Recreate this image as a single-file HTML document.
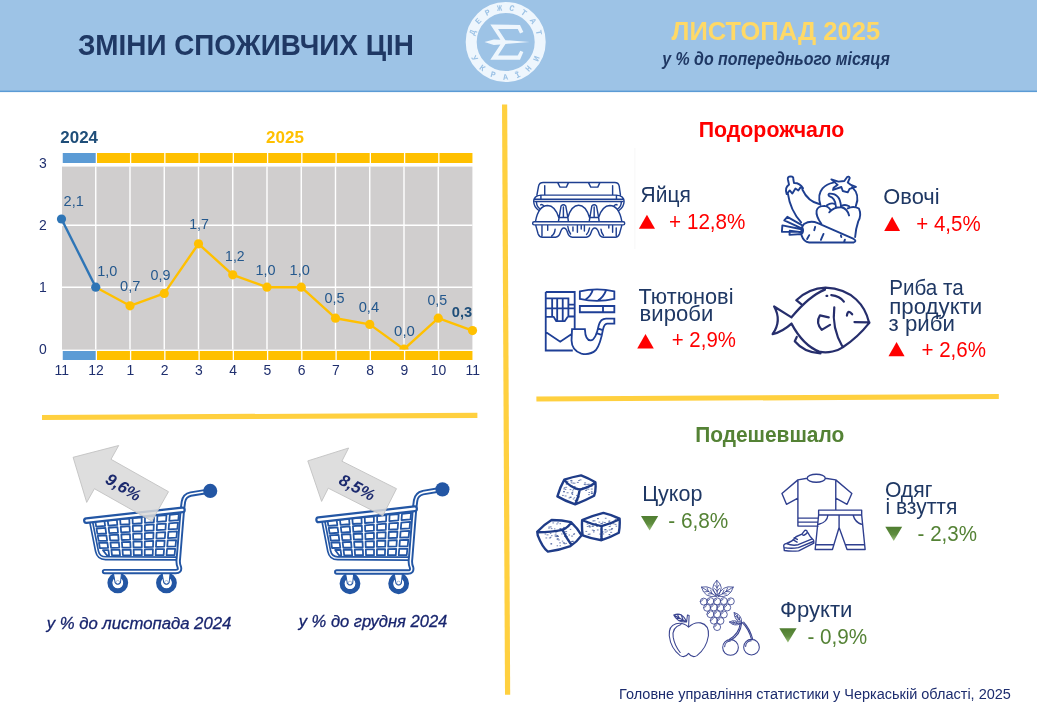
<!DOCTYPE html>
<html lang="uk">
<head>
<meta charset="utf-8">
<title>Зміни споживчих цін</title>
<style>
html,body{margin:0;padding:0;background:#fff;}
body{width:1037px;height:715px;overflow:hidden;position:relative;font-family:"Liberation Sans",sans-serif;}
svg{position:absolute;left:0;top:0;display:block;}
svg text{font-family:"Liberation Sans",sans-serif;}
</style>
</head>
<body>
<svg width="1037" height="715" viewBox="0 0 1037 715">
<!-- 10_header.py -->
<rect x="0" y="0" width="1037" height="91" fill="#9dc3e6"/>
<rect x="0" y="90.6" width="1037" height="1.5" fill="#5b9bd5"/>
<text transform="translate(77.90,54.60) scale(0.9606,1)" font-size="29.0" fill="#1f3864" font-weight="bold">ЗМІНИ СПОЖИВЧИХ ЦІН</text>
<text transform="translate(671.50,39.70) scale(0.9740,1)" font-size="26.2" fill="#ffd966" font-weight="bold">ЛИСТОПАД 2025</text>
<text transform="translate(662.27,64.80) scale(0.8568,1)" font-size="18.6" fill="#1f3864" font-weight="bold" font-style="italic">у % до попереднього місяця</text>
<line x1="504.6" y1="104.5" x2="507.6" y2="694.8" stroke="#ffd03f" stroke-width="5.2"/>
<line x1="42" y1="417.5" x2="477.4" y2="415.4" stroke="#ffd03f" stroke-width="5.2"/>
<line x1="536.4" y1="399" x2="998.8" y2="396.5" stroke="#ffd03f" stroke-width="5.2"/>
<text transform="translate(698.70,136.90) scale(0.9931,1)" font-size="21.5" fill="#ff0000" font-weight="bold">Подорожчало</text>
<text transform="translate(695.20,441.90) scale(0.9727,1)" font-size="21.5" fill="#548235" font-weight="bold">Подешевшало</text>
<text transform="translate(619.10,699.30) scale(0.9546,1)" font-size="15.2" fill="#1c2c6e">Головне управління статистики у Черкаській області, 2025</text>
<text transform="translate(46.65,628.90) scale(0.9955,1)" font-size="16.8" fill="#18256e" font-style="italic" stroke="#18256e" stroke-width="0.3">у % до листопада 2024</text>
<text transform="translate(298.74,626.90) scale(0.9846,1)" font-size="16.8" fill="#18256e" font-style="italic" stroke="#18256e" stroke-width="0.3">у % до грудня 2024</text>
<!-- 15_logo.py -->
<circle cx="505.7" cy="42.0" r="34.5" fill="none" stroke="#eef6fd" stroke-width="11"/>
<polygon points="490.35,24.62 520.00,24.90 523.36,31.89 520.00,33.57 517.76,29.09 498.04,29.09 505.45,40.14 529.51,41.96 505.45,43.92 498.04,55.38 517.76,55.38 520.28,50.63 523.36,52.03 520.00,59.86 490.35,59.86 500.42,44.48 493.85,45.03 484.48,41.96 493.85,39.44 500.42,39.72" fill="#eef6fd"/>
<defs><path id="arcTop" d="M474.00,42.00 A31.7,31.7 0 0 1 537.40,42.00"/><path id="arcBot" d="M468.30,42.00 A37.4,37.4 0 0 0 543.10,42.00"/></defs>
<text font-size="8.4" fill="#9dc3e6" font-weight="bold" style="font-family:'Liberation Mono',monospace" letter-spacing="6.6"><textPath href="#arcTop" startOffset="6.2">ДЕРЖСТАТ</textPath></text>
<text font-size="8.4" fill="#9dc3e6" font-weight="bold" style="font-family:'Liberation Mono',monospace" letter-spacing="8.4"><textPath href="#arcBot" startOffset="15.8">УКРАЇНИ</textPath></text>
<!-- 20_items.py -->
<defs><linearGradient id="gdn" x1="0" y1="0" x2="0" y2="1"><stop offset="0" stop-color="#4f7d30"/><stop offset="0.55" stop-color="#5f8d3f"/><stop offset="1" stop-color="#9cc07c"/></linearGradient></defs>
<line x1="634.9" y1="148" x2="634.9" y2="249" stroke="#f7f7f7" stroke-width="1"/>
<text transform="translate(640.55,201.70) scale(0.9537,1)" font-size="22.0" fill="#1f3864">Яйця</text>
<polygon points="638.9,228.8 655,228.8 646.95,214.8" fill="#ff0000"/>
<text transform="translate(669.10,228.80) scale(0.9393,1)" font-size="22.0" fill="#ff0000">+ 12,8%</text>
<text transform="translate(883.30,204.10) scale(0.9938,1)" font-size="22.0" fill="#1f3864">Овочі</text>
<polygon points="884.2,230.9 900.1,230.9 892.1500000000001,216.7" fill="#ff0000"/>
<text transform="translate(916.30,231.20) scale(0.9320,1)" font-size="22.0" fill="#ff0000">+ 4,5%</text>
<text transform="translate(638.50,304.20) scale(0.9893,1)" font-size="22.0" fill="#1f3864">Тютюнові</text>
<text transform="translate(639.60,321.10) scale(1.0048,1)" font-size="22.0" fill="#1f3864">вироби</text>
<polygon points="637.2,348.4 653.8,348.4 645.5,333.9" fill="#ff0000"/>
<text transform="translate(671.80,347.30) scale(0.9276,1)" font-size="22.0" fill="#ff0000">+ 2,9%</text>
<text transform="translate(889.20,295.40) scale(0.9385,1)" font-size="22.0" fill="#1f3864">Риба та</text>
<text transform="translate(889.20,313.50) scale(1.0122,1)" font-size="22.0" fill="#1f3864">продукти</text>
<text transform="translate(888.60,330.90) scale(1.0106,1)" font-size="22.0" fill="#1f3864">з риби</text>
<polygon points="888.5,356.2 904.6,356.2 896.55,342.1" fill="#ff0000"/>
<text transform="translate(921.50,357.30) scale(0.9334,1)" font-size="22.0" fill="#ff0000">+ 2,6%</text>
<text transform="translate(642.20,501.40) scale(0.9785,1)" font-size="22.0" fill="#1f3864">Цукор</text>
<polygon points="641,515.9 658.2,515.9 649.6,530.4" fill="url(#gdn)"/>
<text transform="translate(668.20,528.30) scale(0.9453,1)" font-size="22.0" fill="#548235">- 6,8%</text>
<text transform="translate(884.90,496.60) scale(0.9613,1)" font-size="22.0" fill="#1f3864">Одяг</text>
<text transform="translate(885.40,514.30) scale(0.9555,1)" font-size="22.0" fill="#1f3864">і взуття</text>
<polygon points="885.3,526.7 902.2,526.7 893.75,540.9" fill="url(#gdn)"/>
<text transform="translate(917.60,540.50) scale(0.9343,1)" font-size="22.0" fill="#548235">- 2,3%</text>
<text transform="translate(780.10,617.20) scale(1.0061,1)" font-size="22.0" fill="#1f3864">Фрукти</text>
<polygon points="779.3,628.2 796.6,628.2 787.95,642.6" fill="url(#gdn)"/>
<text transform="translate(807.40,643.80) scale(0.9421,1)" font-size="22.0" fill="#548235">- 0,9%</text>
<!-- 30_chart.py -->
<rect x="62" y="166.6" width="410.40" height="183.00" fill="#d0cece"/>
<path d="M95.75,166.6V349.6M130.00,166.6V349.6M164.25,166.6V349.6M198.50,166.6V349.6M232.75,166.6V349.6M267.00,166.6V349.6M301.25,166.6V349.6M335.50,166.6V349.6M369.75,166.6V349.6M404.00,166.6V349.6M438.25,166.6V349.6M62,287.20H472.4M62,225.20H472.4" stroke="#ffffff" stroke-width="1.4" fill="none"/>
<rect x="62.75" y="153.0" width="32.95" height="10.0" fill="#5b9bd5"/>
<rect x="97.00" y="153.0" width="32.95" height="10.0" fill="#ffc000"/>
<rect x="131.25" y="153.0" width="32.95" height="10.0" fill="#ffc000"/>
<rect x="165.50" y="153.0" width="32.95" height="10.0" fill="#ffc000"/>
<rect x="199.75" y="153.0" width="32.95" height="10.0" fill="#ffc000"/>
<rect x="234.00" y="153.0" width="32.95" height="10.0" fill="#ffc000"/>
<rect x="268.25" y="153.0" width="32.95" height="10.0" fill="#ffc000"/>
<rect x="302.50" y="153.0" width="32.95" height="10.0" fill="#ffc000"/>
<rect x="336.75" y="153.0" width="32.95" height="10.0" fill="#ffc000"/>
<rect x="371.00" y="153.0" width="32.95" height="10.0" fill="#ffc000"/>
<rect x="405.25" y="153.0" width="32.95" height="10.0" fill="#ffc000"/>
<rect x="439.50" y="153.0" width="32.95" height="10.0" fill="#ffc000"/>
<rect x="62.75" y="351.0" width="32.95" height="9.0" fill="#5b9bd5"/>
<rect x="97.00" y="351.0" width="32.95" height="9.0" fill="#ffc000"/>
<rect x="131.25" y="351.0" width="32.95" height="9.0" fill="#ffc000"/>
<rect x="165.50" y="351.0" width="32.95" height="9.0" fill="#ffc000"/>
<rect x="199.75" y="351.0" width="32.95" height="9.0" fill="#ffc000"/>
<rect x="234.00" y="351.0" width="32.95" height="9.0" fill="#ffc000"/>
<rect x="268.25" y="351.0" width="32.95" height="9.0" fill="#ffc000"/>
<rect x="302.50" y="351.0" width="32.95" height="9.0" fill="#ffc000"/>
<rect x="336.75" y="351.0" width="32.95" height="9.0" fill="#ffc000"/>
<rect x="371.00" y="351.0" width="32.95" height="9.0" fill="#ffc000"/>
<rect x="405.25" y="351.0" width="32.95" height="9.0" fill="#ffc000"/>
<rect x="439.50" y="351.0" width="32.95" height="9.0" fill="#ffc000"/>
<clipPath id="plotclip"><rect x="50" y="150" width="440" height="199.6"/></clipPath>
<g clip-path="url(#plotclip)">
<polyline points="95.75,287.20 130.00,305.80 164.25,293.40 198.50,243.80 232.75,274.80 267.00,287.20 301.25,287.20 335.50,318.20 369.75,324.40 404.00,349.20 438.25,318.20 472.50,330.60" fill="none" stroke="#ffc000" stroke-width="2.4" stroke-linejoin="round"/>
<line x1="61.50" y1="219.00" x2="95.75" y2="287.20" stroke="#2e75b6" stroke-width="2.4"/>
<circle cx="61.50" cy="219.00" r="4.6" fill="#2e75b6"/>
<circle cx="95.75" cy="287.20" r="4.6" fill="#2e75b6"/>
<circle cx="130.00" cy="305.80" r="4.6" fill="#ffc000"/>
<circle cx="164.25" cy="293.40" r="4.6" fill="#ffc000"/>
<circle cx="198.50" cy="243.80" r="4.6" fill="#ffc000"/>
<circle cx="232.75" cy="274.80" r="4.6" fill="#ffc000"/>
<circle cx="267.00" cy="287.20" r="4.6" fill="#ffc000"/>
<circle cx="301.25" cy="287.20" r="4.6" fill="#ffc000"/>
<circle cx="335.50" cy="318.20" r="4.6" fill="#ffc000"/>
<circle cx="369.75" cy="324.40" r="4.6" fill="#ffc000"/>
<circle cx="404.00" cy="349.20" r="4.6" fill="#ffc000"/>
<circle cx="438.25" cy="318.20" r="4.6" fill="#ffc000"/>
<circle cx="472.50" cy="330.60" r="4.6" fill="#ffc000"/>
</g>
<text transform="translate(60.30,142.70) scale(0.9967,1)" font-size="17.0" fill="#1f4e79" font-weight="bold">2024</text>
<text transform="translate(266.10,142.70) scale(0.9993,1)" font-size="17.0" fill="#ffc000" font-weight="bold">2025</text>
<text transform="translate(38.92,167.80) scale(0.9300,1)" font-size="15.0" fill="#1f2f6f">3</text>
<text transform="translate(38.92,229.90) scale(0.9300,1)" font-size="15.0" fill="#1f2f6f">2</text>
<text transform="translate(38.92,292.30) scale(0.9300,1)" font-size="15.0" fill="#1f2f6f">1</text>
<text transform="translate(38.92,354.10) scale(0.9300,1)" font-size="15.0" fill="#1f2f6f">0</text>
<text transform="translate(54.56,375.00) scale(0.9300,1)" font-size="15.0" fill="#1f2f6f">11</text>
<text transform="translate(88.29,375.00) scale(0.9300,1)" font-size="15.0" fill="#1f2f6f">12</text>
<text transform="translate(126.42,375.00) scale(0.9300,1)" font-size="15.0" fill="#1f2f6f">1</text>
<text transform="translate(160.67,375.00) scale(0.9300,1)" font-size="15.0" fill="#1f2f6f">2</text>
<text transform="translate(194.92,375.00) scale(0.9300,1)" font-size="15.0" fill="#1f2f6f">3</text>
<text transform="translate(229.17,375.00) scale(0.9300,1)" font-size="15.0" fill="#1f2f6f">4</text>
<text transform="translate(263.42,375.00) scale(0.9300,1)" font-size="15.0" fill="#1f2f6f">5</text>
<text transform="translate(297.67,375.00) scale(0.9300,1)" font-size="15.0" fill="#1f2f6f">6</text>
<text transform="translate(331.92,375.00) scale(0.9300,1)" font-size="15.0" fill="#1f2f6f">7</text>
<text transform="translate(366.17,375.00) scale(0.9300,1)" font-size="15.0" fill="#1f2f6f">8</text>
<text transform="translate(400.42,375.00) scale(0.9300,1)" font-size="15.0" fill="#1f2f6f">9</text>
<text transform="translate(430.79,375.00) scale(0.9300,1)" font-size="15.0" fill="#1f2f6f">10</text>
<text transform="translate(465.56,375.00) scale(0.9300,1)" font-size="15.0" fill="#1f2f6f">11</text>
<text transform="translate(63.60,206.40) scale(0.9688,1)" font-size="15.0" fill="#24588d">2,1</text>
<text transform="translate(97.20,275.90) scale(0.9640,1)" font-size="15.0" fill="#24588d">1,0</text>
<text transform="translate(120.10,290.80) scale(0.9736,1)" font-size="15.0" fill="#24588d">0,7</text>
<text transform="translate(150.50,279.50) scale(0.9544,1)" font-size="15.0" fill="#24588d">0,9</text>
<text transform="translate(189.20,229.00) scale(0.9448,1)" font-size="15.0" fill="#24588d">1,7</text>
<text transform="translate(225.10,260.50) scale(0.9353,1)" font-size="15.0" fill="#24588d">1,2</text>
<text transform="translate(255.40,275.40) scale(0.9640,1)" font-size="15.0" fill="#24588d">1,0</text>
<text transform="translate(289.60,275.40) scale(0.9736,1)" font-size="15.0" fill="#24588d">1,0</text>
<text transform="translate(324.50,303.10) scale(0.9640,1)" font-size="15.0" fill="#24588d">0,5</text>
<text transform="translate(358.70,312.20) scale(0.9784,1)" font-size="15.0" fill="#24588d">0,4</text>
<text transform="translate(394.10,336.00) scale(0.9976,1)" font-size="15.0" fill="#24588d">0,0</text>
<text transform="translate(427.40,304.90) scale(0.9448,1)" font-size="15.0" fill="#24588d">0,5</text>
<text transform="translate(451.80,317.30) scale(0.9784,1)" font-size="15.0" fill="#1f4e79" font-weight="bold">0,3</text>
<!-- 40_eggs.py -->
<g transform="translate(525,175) scale(0.10608)" fill="none" stroke="#1e3f90" stroke-width="13.5" stroke-linecap="round" stroke-linejoin="round"><path d="M112,190 L128,105 Q134,70 172,70 L846,70 Q882,70 888,105 L900,190 M186,100 V190 M826,100 V190 M308,72 L330,114 H390 L410,72 M598,72 L620,114 H686 L706,72 M150,190 H862 M150,190 Q82,196 82,250 Q84,300 128,332 M862,190 Q934,196 934,250 Q932,300 888,332 M90,228 H926 M96,250 H920 M108,252 Q108,296 140,318 M908,252 Q908,296 876,318 M150,190 V226 M862,190 V226 M148,282 Q160,272 176,290 M868,282 Q856,272 840,290 M100,432 Q128,290 214,288 Q282,290 318,400 M404,400 Q440,286 506,286 Q572,286 608,400 M694,400 Q730,290 800,288 Q884,290 912,432 M316,432 L322,400 L340,292 Q362,270 384,292 L404,400 L408,432 M322,400 H404 M362,302 V398 M606,432 L612,400 L630,292 Q652,270 674,292 L694,400 L698,432 M612,400 H694 M652,302 V398 M86,440 H926 Q940,440 940,455 Q940,470 926,470 H86 Q72,470 72,455 Q72,440 86,440 Z M100,470 L124,556 Q134,586 166,586 H288 Q320,586 334,540 Q346,500 366,500 Q388,500 400,540 Q414,586 446,586 H578 Q610,586 624,540 Q636,500 658,500 Q680,500 694,540 Q706,586 736,586 H850 Q880,586 890,556 L914,470 M160,480 V572 M214,480 V520 M284,510 Q280,556 252,574 M404,486 Q408,530 430,556 M452,490 V528 M494,480 V540 M530,480 V510 M560,480 V528 M608,500 Q600,540 580,560 M716,510 Q720,550 740,570 M790,480 V500 M826,480 V540 M860,500 V572"/></g>
<!-- 41_veg.py -->
<g transform="translate(770,165) scale(0.11891)" fill="none" stroke="#1e3f90" stroke-width="16" stroke-linecap="round" stroke-linejoin="round"><path d="M160,165 L150,120 Q146,98 174,96 Q200,98 196,120 L202,152 Q250,150 278,196 L256,188 L238,214 L214,198 L188,240 L166,214 L140,244 Q122,190 160,165 M150,238 Q170,380 262,482 M272,206 Q320,310 420,330 M424,334 Q396,250 442,196 Q476,160 532,148 M690,186 Q760,250 722,344 M516,121 L575,140 L625,135 L649,101 Q661,92 671,109 L654,148 L681,168 L723,184 L669,201 L654,230 L612,219 L600,185 L530,210 L535,192 L569,167 Z M554,349 Q552,280 498,262 Q486,250 497,241 Q590,236 597,349 M392,384 Q400,346 458,344 Q500,352 511,386 L498,398 M501,394 Q540,352 601,355 Q650,366 665,424 M479,339 Q516,312 548,330 M601,344 Q633,326 665,347 M654,365 Q700,340 748,366 Q772,420 742,474 Q720,540 716,606 M392,384 Q384,430 432,494 M286,496 Q340,462 402,488 L704,622 Q734,642 702,652 L330,652 Q284,646 266,594 Q252,540 286,496 M380,520 L372,548 M450,580 L428,630 M330,590 L312,622 M596,592 L600,606 M630,628 L624,644 M270,520 Q290,560 264,580 M268,506 L146,436 L120,466 L262,530 M264,540 L104,508 L100,562 L262,562 M262,566 L166,552 L164,588 L266,580"/></g>
<!-- 42_tobacco.py -->
<g transform="translate(530,275) scale(0.12587)" fill="none" stroke="#1e3f96" stroke-width="14.5" stroke-linecap="butt" stroke-linejoin="miter"><path d="M125,135 H355 V425 M125,135 V600 H340 M125,186 H305 V335 M125,265 H355 M305,235 H355 M305,330 H355 M125,332 H188 L208,366 H276 L300,332 M176,190 V332 M216,190 V360 M260,190 V360 M125,452 L240,530 L334,466 M396,130 Q532,98 670,130 V190 Q532,222 396,190 Z M440,196 Q484,170 500,116 M540,202 Q584,176 604,122 M396,246 H670 V296 H396 Z M580,246 V296 M334,430 H436 Q440,520 482,520 Q522,516 546,400 Q560,346 604,346 H670 V386 H612 Q590,388 580,432 Q560,548 524,596 Q476,640 408,624 Q332,600 330,520 Z M540,424 L582,440 M530,462 L572,478"/></g>
<!-- 43_fish.py -->
<g transform="translate(760,275) scale(0.12594)" fill="none" stroke="#262e6c" stroke-width="17.5" stroke-linecap="round" stroke-linejoin="round"><path d="M864,372 C836,250 740,110 520,100 M516,116 C430,150 350,215 250,336 M250,386 C300,480 370,570 470,608 C540,626 620,600 660,572 C750,512 820,440 864,384 Q874,376 864,372 M250,336 L112,250 Q176,362 100,470 Q180,450 250,386 M520,100 C420,104 340,150 288,200 L332,236 M292,492 L276,526 Q350,616 480,622 M590,256 Q568,420 656,572 M546,336 L476,320 Q440,376 490,436 L556,396 M690,322 Q698,268 732,312 M750,374 L858,376 M528,166 L534,166 M566,160 Q634,166 666,212"/></g>
<!-- 44_sugar.py -->
<g transform="translate(525,465) scale(0.13286)"><path d="M296,110 Q356,90 422,78 Q480,100 530,130 Q536,190 520,232 Q450,270 378,296 Q300,270 244,236 Q262,170 296,110 Z M296,112 Q340,170 412,186 Q480,170 528,134 M412,186 Q404,240 380,292 M92,502 Q140,450 200,414 Q280,414 346,430 Q396,476 426,530 Q390,580 342,610 Q260,640 172,652 Q130,620 96,530 Z M96,506 Q200,506 282,488 Q330,466 346,432 M282,488 Q310,550 350,602 M430,414 Q510,380 590,360 Q660,376 712,404 Q716,460 706,510 Q640,546 576,566 Q500,556 434,530 Q426,470 430,414 Z M432,416 Q500,446 576,460 Q650,440 710,408 M576,460 V564" fill="none" stroke="#1f3c88" stroke-width="18" stroke-linecap="round" stroke-linejoin="round"/>
<path d="M345,121h9M289,202h9M368,137h9M370,247h5M499,211h9M499,201h7M403,117h7M341,245h5M291,199h5M357,195h5M404,208h7M433,172h7M380,265h7M339,241h9M339,185h7M445,146h5M295,171h7M303,184h5M403,240h7M349,158h7M408,178h5M498,181h9M282,229h7M468,146h7M484,157h7M353,207h7M362,256h5M307,168h7M478,145h7M359,136h5M309,136h5M310,145h5M369,162h9M344,116h9M499,215h9M462,166h7M363,183h7M317,123h7M413,112h9M481,207h5M414,181h5M380,183h5M301,233h9M331,248h5M393,131h9M355,222h5M452,148h9M478,223h7M393,263h7M455,192h9M347,134h5M448,135h9M387,229h5M460,181h5M376,268h7M500,161h5M291,180h7M316,209h9M472,182h9M350,213h9M150,509h9M331,527h5M241,559h5M230,511h5M324,464h5M250,564h9M305,501h9M346,578h5M241,608h5M260,586h7M190,515h5M350,535h9M263,608h5M291,588h5M165,526h9M312,538h7M277,480h7M246,435h5M243,555h9M290,470h7M246,538h7M262,480h9M191,544h5M151,520h5M309,517h5M308,590h5M221,481h5M240,535h7M237,502h5M275,519h5M226,535h7M263,442h5M340,485h5M233,539h9M280,573h5M196,593h5M238,444h5M298,593h5M291,475h7M364,522h7M191,466h7M297,538h5M199,532h5M194,594h7M264,480h7M240,531h7M178,476h5M355,574h9M369,517h5M197,479h7M221,497h9M209,436h7M179,467h7M226,526h9M304,480h5M157,549h7M183,549h9M287,586h9M324,561h5M353,576h9M602,505h9M484,467h9M588,519h5M651,478h9M616,497h5M542,455h5M602,486h9M510,421h7M644,507h9M578,507h7M515,504h5M506,490h7M570,442h7M671,425h5M600,488h5M596,433h9M630,428h9M483,460h7M515,494h9M503,461h9M576,457h7M583,430h5M562,520h7M632,421h7M482,520h9M539,463h7M546,403h7M616,446h9M484,435h7M480,433h7M632,523h5M678,409h5M669,426h7M466,444h9M634,526h7M475,522h7M604,401h7M556,430h7M641,450h5M647,486h9M583,502h5M677,447h9M633,489h7M568,536h9M481,458h7M519,420h9M687,421h9M508,460h9M546,404h5M468,463h7M584,455h7M472,435h5M528,440h9M661,442h9M577,441h7M633,463h9M572,486h5M544,489h7M458,500h7M685,461h5" stroke="#1f3c88" stroke-width="6" stroke-linecap="round" fill="none" opacity="0.8"/></g>
<!-- 45_clothes.py -->
<g transform="translate(770,465) scale(0.13286)" fill="none" stroke="#2f3f8f" stroke-width="10.5" stroke-linecap="round" stroke-linejoin="round"><path d="M280,100 L210,112 V460 H362 M416,100 L495,112 V338 M280,100 A68,30 0 0 0 416,100 A68,30 0 0 0 280,100 M210,112 L90,214 L124,296 L210,250 M495,112 L616,214 L580,296 L495,250 M210,400 H360 M210,430 H356 M366,340 H690 V376 H366 Z M366,376 L340,636 H470 L520,470 L580,636 H716 L690,376 M520,376 V470 M346,600 H480 M568,600 H712 M436,378 Q430,430 368,446 M626,378 Q640,430 688,446 M104,612 Q100,596 124,590 Q170,576 196,540 L240,520 L262,492 Q276,488 282,504 Q300,540 328,566 L330,588 L216,646 Q160,652 108,644 Z M106,622 Q160,632 214,622 L330,574 M124,592 Q170,610 212,600 L318,556 M182,548 L206,560 M178,566 L204,580 M240,522 Q256,540 282,506"/></g>
<!-- 46_fruits.py -->
<g transform="translate(655,570) scale(0.13986)" fill="none" stroke="#3a4490" stroke-linecap="round" stroke-linejoin="round"><path stroke-width="7.6" d="M240,408 Q200,370 150,384 Q96,400 102,470 Q112,560 180,612 Q214,632 240,596 Q266,632 300,612 Q368,560 382,470 Q388,392 326,378 Q280,370 240,408 M186,390 Q120,410 130,480 Q140,540 180,590 M240,408 L244,326 L232,322 L226,372 M226,372 Q160,376 134,322 Q196,296 226,372 M134,322 L226,372 M160,318 L176,346 M186,318 L200,354 M154,344 L180,348 M176,362 L204,360 M484,554 a56,56 0 1 0 112,0 a56,56 0 1 0 -112,0 M498,548 a42,42 0 0 1 40,-40 M634,552 a56,56 0 1 0 112,0 a56,56 0 1 0 -112,0 M648,546 a42,42 0 0 1 40,-40 M620,376 Q610,470 540,500 M610,380 Q600,460 530,496 M624,376 Q670,420 690,496 M634,372 Q680,420 700,498"/><path stroke-width="6" d="M445,182 Q505,126 442,74 Q382,130 445,182 M445,182 L442,74 M444,152 L461,132 M444,152 L426,133 M443,126 L460,106 M443,126 L426,107 M438,188 Q416,106 332,122 Q354,204 438,188 M438,188 L332,122 M408,170 L398,144 M408,170 L381,171 M383,154 L372,128 M383,154 L355,156 M452,188 Q536,204 560,122 Q476,106 452,188 M452,188 L560,122 M482,170 L510,171 M482,170 L493,144 M508,154 L536,156 M508,154 L519,128 M323,226 a25,25 0 1 0 50,0 a25,25 0 1 0 -50,0 M332,223 a16,16 0 0 1 12,-12 M371,222 a25,25 0 1 0 50,0 a25,25 0 1 0 -50,0 M380,219 a16,16 0 0 1 12,-12 M419,224 a25,25 0 1 0 50,0 a25,25 0 1 0 -50,0 M428,221 a16,16 0 0 1 12,-12 M467,222 a25,25 0 1 0 50,0 a25,25 0 1 0 -50,0 M476,219 a16,16 0 0 1 12,-12 M517,224 a25,25 0 1 0 50,0 a25,25 0 1 0 -50,0 M526,221 a16,16 0 0 1 12,-12 M347,270 a25,25 0 1 0 50,0 a25,25 0 1 0 -50,0 M356,267 a16,16 0 0 1 12,-12 M395,268 a25,25 0 1 0 50,0 a25,25 0 1 0 -50,0 M404,265 a16,16 0 0 1 12,-12 M443,270 a25,25 0 1 0 50,0 a25,25 0 1 0 -50,0 M452,267 a16,16 0 0 1 12,-12 M491,268 a25,25 0 1 0 50,0 a25,25 0 1 0 -50,0 M500,265 a16,16 0 0 1 12,-12 M371,316 a25,25 0 1 0 50,0 a25,25 0 1 0 -50,0 M380,313 a16,16 0 0 1 12,-12 M419,316 a25,25 0 1 0 50,0 a25,25 0 1 0 -50,0 M428,313 a16,16 0 0 1 12,-12 M467,318 a25,25 0 1 0 50,0 a25,25 0 1 0 -50,0 M476,315 a16,16 0 0 1 12,-12 M395,362 a25,25 0 1 0 50,0 a25,25 0 1 0 -50,0 M404,359 a16,16 0 0 1 12,-12 M443,364 a25,25 0 1 0 50,0 a25,25 0 1 0 -50,0 M452,361 a16,16 0 0 1 12,-12 M419,408 a25,25 0 1 0 50,0 a25,25 0 1 0 -50,0 M428,405 a16,16 0 0 1 12,-12 M620,376 Q622,318 566,304 Q564,362 620,376 M620,376 L566,304 M605,356 L603,337 M605,356 L587,349 M592,339 L590,320 M592,339 L574,332 M612,384 Q576,348 532,372 Q568,408 612,384 M612,384 L532,372 M590,381 L576,370 M590,381 L574,387 M570,378 L557,367 M570,378 L555,384"/></g>
<!-- 50_cart.py -->
<g transform="translate(75,480) scale(0.16779)"><polygon points="110,242 630,194 601,455 148,455" fill="#ffffff"/><path d="M120.9,247.1 L175.2,242.2 L179.5,273.7 L126.2,277.9ZM128.3,289.9 L181.2,286.0 L185.5,317.5 L133.5,320.7ZM135.6,332.6 L187.1,329.8 L191.4,361.3 L140.9,363.4ZM142.9,375.4 L193.1,373.6 L197.3,405.1 L148.2,406.2ZM166.5,417.9 L199.0,417.3 L203.3,448.9 L189.7,448.9ZM194.9,240.4 L249.3,235.5 L252.2,268.0 L198.8,272.2ZM200.4,284.6 L253.3,280.7 L256.2,313.2 L204.3,316.4ZM205.8,328.7 L257.3,325.8 L260.2,358.4 L209.7,360.5ZM211.2,372.9 L261.3,371.0 L264.2,403.5 L215.1,404.7ZM216.7,417.0 L265.4,416.2 L268.3,448.7 L220.6,448.8ZM268.9,233.7 L323.3,228.9 L324.8,262.4 L271.5,266.5ZM272.5,279.3 L325.4,275.4 L326.9,308.9 L275.0,312.1ZM276.0,324.8 L327.5,321.9 L329.0,355.4 L278.5,357.6ZM279.5,370.3 L329.6,368.5 L331.1,402.0 L282.0,403.1ZM283.0,415.8 L331.7,415.0 L333.2,448.5 L285.5,448.6ZM343.0,227.1 L397.3,222.2 L397.4,256.7 L344.1,260.8ZM344.6,274.0 L397.5,270.1 L397.6,304.6 L345.7,307.7ZM346.2,320.9 L397.7,318.0 L397.8,352.5 L347.3,354.6ZM347.8,367.8 L397.9,365.9 L398.0,400.4 L348.9,401.5ZM349.4,414.7 L398.1,413.8 L398.2,448.3 L350.5,448.4ZM417.0,220.4 L471.3,215.5 L470.1,251.0 L416.8,255.2ZM416.7,268.7 L469.6,264.8 L468.4,300.3 L416.4,303.4ZM416.4,317.0 L467.9,314.1 L466.6,349.6 L416.1,351.7ZM416.0,365.2 L466.2,363.3 L464.9,398.8 L415.8,400.0ZM415.7,413.5 L464.4,412.6 L463.2,448.1 L415.5,448.2ZM491.0,213.8 L545.3,208.9 L542.7,245.3 L489.4,249.5ZM488.8,263.4 L541.7,259.5 L539.1,296.0 L487.2,299.1ZM486.5,313.0 L538.1,310.2 L535.4,346.6 L484.9,348.8ZM484.3,362.7 L534.4,360.8 L531.8,397.3 L482.7,398.4ZM482.1,412.3 L530.8,411.4 L528.2,447.9 L480.5,448.1ZM565.0,207.1 L619.3,202.2 L615.4,239.6 L562.0,243.8ZM560.9,258.1 L613.8,254.2 L609.8,291.7 L557.9,294.8ZM556.7,309.1 L608.3,306.2 L604.3,343.7 L553.8,345.8ZM552.6,360.1 L602.7,358.2 L598.7,395.7 L549.6,396.8ZM548.5,411.1 L597.2,410.3 L593.2,447.7 L545.5,447.9Z" fill="#ffffff" stroke="#2356a4" stroke-width="10.5" stroke-linejoin="round"/><path d="M97,252 L131,424 Q140,466 182,466 L604,468" fill="none" stroke="#2356a4" stroke-width="27" stroke-linecap="round" stroke-linejoin="round"/><path d="M97,252 L131,424 Q140,466 182,466 L604,468" fill="none" stroke="#ffffff" stroke-width="7" stroke-linecap="round" stroke-linejoin="round"/><circle cx="255" cy="613" r="47" fill="none" stroke="#2356a4" stroke-width="30"/><circle cx="255" cy="613" r="30" fill="#ffffff"/><path d="M229,556 L239,612 Q255,632 271,612 L277,556 Z" fill="#ffffff" stroke="#2356a4" stroke-width="6" stroke-linejoin="round"/><circle cx="255" cy="610" r="11" fill="none" stroke="#2356a4" stroke-width="3.5" opacity="0.6"/><circle cx="545" cy="613" r="47" fill="none" stroke="#2356a4" stroke-width="30"/><circle cx="545" cy="613" r="30" fill="#ffffff"/><path d="M519,556 L529,612 Q545,632 561,612 L567,556 Z" fill="#ffffff" stroke="#2356a4" stroke-width="6" stroke-linejoin="round"/><circle cx="545" cy="610" r="11" fill="none" stroke="#2356a4" stroke-width="3.5" opacity="0.6"/><path d="M800,66 L690,84 Q652,92 646,130 L640,176 L616,470 Q612,500 622,520 Q628,546 600,546 L176,546" fill="none" stroke="#2356a4" stroke-width="32" stroke-linecap="round" stroke-linejoin="round"/><path d="M800,66 L690,84 Q652,92 646,130 L640,176 L616,470 Q612,500 622,520 Q628,546 600,546 L176,546" fill="none" stroke="#ffffff" stroke-width="9" stroke-linecap="round" stroke-linejoin="round"/><path d="M68,242 L640,178" fill="none" stroke="#2356a4" stroke-width="40" stroke-linecap="round" stroke-linejoin="round"/><path d="M68,242 L640,178" fill="none" stroke="#ffffff" stroke-width="14" stroke-linecap="round" stroke-linejoin="round"/><circle cx="806" cy="65" r="42" fill="#2356a4"/></g>
<g transform="translate(307.20,478.20) scale(0.16779,0.17181)"><polygon points="110,242 630,194 601,455 148,455" fill="#ffffff"/><path d="M120.9,247.1 L175.2,242.2 L179.5,273.7 L126.2,277.9ZM128.3,289.9 L181.2,286.0 L185.5,317.5 L133.5,320.7ZM135.6,332.6 L187.1,329.8 L191.4,361.3 L140.9,363.4ZM142.9,375.4 L193.1,373.6 L197.3,405.1 L148.2,406.2ZM166.5,417.9 L199.0,417.3 L203.3,448.9 L189.7,448.9ZM194.9,240.4 L249.3,235.5 L252.2,268.0 L198.8,272.2ZM200.4,284.6 L253.3,280.7 L256.2,313.2 L204.3,316.4ZM205.8,328.7 L257.3,325.8 L260.2,358.4 L209.7,360.5ZM211.2,372.9 L261.3,371.0 L264.2,403.5 L215.1,404.7ZM216.7,417.0 L265.4,416.2 L268.3,448.7 L220.6,448.8ZM268.9,233.7 L323.3,228.9 L324.8,262.4 L271.5,266.5ZM272.5,279.3 L325.4,275.4 L326.9,308.9 L275.0,312.1ZM276.0,324.8 L327.5,321.9 L329.0,355.4 L278.5,357.6ZM279.5,370.3 L329.6,368.5 L331.1,402.0 L282.0,403.1ZM283.0,415.8 L331.7,415.0 L333.2,448.5 L285.5,448.6ZM343.0,227.1 L397.3,222.2 L397.4,256.7 L344.1,260.8ZM344.6,274.0 L397.5,270.1 L397.6,304.6 L345.7,307.7ZM346.2,320.9 L397.7,318.0 L397.8,352.5 L347.3,354.6ZM347.8,367.8 L397.9,365.9 L398.0,400.4 L348.9,401.5ZM349.4,414.7 L398.1,413.8 L398.2,448.3 L350.5,448.4ZM417.0,220.4 L471.3,215.5 L470.1,251.0 L416.8,255.2ZM416.7,268.7 L469.6,264.8 L468.4,300.3 L416.4,303.4ZM416.4,317.0 L467.9,314.1 L466.6,349.6 L416.1,351.7ZM416.0,365.2 L466.2,363.3 L464.9,398.8 L415.8,400.0ZM415.7,413.5 L464.4,412.6 L463.2,448.1 L415.5,448.2ZM491.0,213.8 L545.3,208.9 L542.7,245.3 L489.4,249.5ZM488.8,263.4 L541.7,259.5 L539.1,296.0 L487.2,299.1ZM486.5,313.0 L538.1,310.2 L535.4,346.6 L484.9,348.8ZM484.3,362.7 L534.4,360.8 L531.8,397.3 L482.7,398.4ZM482.1,412.3 L530.8,411.4 L528.2,447.9 L480.5,448.1ZM565.0,207.1 L619.3,202.2 L615.4,239.6 L562.0,243.8ZM560.9,258.1 L613.8,254.2 L609.8,291.7 L557.9,294.8ZM556.7,309.1 L608.3,306.2 L604.3,343.7 L553.8,345.8ZM552.6,360.1 L602.7,358.2 L598.7,395.7 L549.6,396.8ZM548.5,411.1 L597.2,410.3 L593.2,447.7 L545.5,447.9Z" fill="#ffffff" stroke="#2356a4" stroke-width="10.5" stroke-linejoin="round"/><path d="M97,252 L131,424 Q140,466 182,466 L604,468" fill="none" stroke="#2356a4" stroke-width="27" stroke-linecap="round" stroke-linejoin="round"/><path d="M97,252 L131,424 Q140,466 182,466 L604,468" fill="none" stroke="#ffffff" stroke-width="7" stroke-linecap="round" stroke-linejoin="round"/><circle cx="255" cy="613" r="47" fill="none" stroke="#2356a4" stroke-width="30"/><circle cx="255" cy="613" r="30" fill="#ffffff"/><path d="M229,556 L239,612 Q255,632 271,612 L277,556 Z" fill="#ffffff" stroke="#2356a4" stroke-width="6" stroke-linejoin="round"/><circle cx="255" cy="610" r="11" fill="none" stroke="#2356a4" stroke-width="3.5" opacity="0.6"/><circle cx="545" cy="613" r="47" fill="none" stroke="#2356a4" stroke-width="30"/><circle cx="545" cy="613" r="30" fill="#ffffff"/><path d="M519,556 L529,612 Q545,632 561,612 L567,556 Z" fill="#ffffff" stroke="#2356a4" stroke-width="6" stroke-linejoin="round"/><circle cx="545" cy="610" r="11" fill="none" stroke="#2356a4" stroke-width="3.5" opacity="0.6"/><path d="M800,66 L690,84 Q652,92 646,130 L640,176 L616,470 Q612,500 622,520 Q628,546 600,546 L176,546" fill="none" stroke="#2356a4" stroke-width="32" stroke-linecap="round" stroke-linejoin="round"/><path d="M800,66 L690,84 Q652,92 646,130 L640,176 L616,470 Q612,500 622,520 Q628,546 600,546 L176,546" fill="none" stroke="#ffffff" stroke-width="9" stroke-linecap="round" stroke-linejoin="round"/><path d="M68,242 L640,178" fill="none" stroke="#2356a4" stroke-width="40" stroke-linecap="round" stroke-linejoin="round"/><path d="M68,242 L640,178" fill="none" stroke="#ffffff" stroke-width="14" stroke-linecap="round" stroke-linejoin="round"/><circle cx="806" cy="65" r="42" fill="#2356a4"/></g>
<polygon points="73.1,457.3 118.7,445.5 111.0,459.3 168.5,491.7 151.9,521.1 94.4,488.7 86.7,502.4" fill="#d9d9d9" fill-opacity="0.86" stroke="#c2c2c2" stroke-opacity="0.9" stroke-width="1"/>
<text transform="translate(120.5,492.0) rotate(31)" text-anchor="middle" font-size="16.6" font-weight="bold" font-style="italic" fill="#1c2a6e">9,6%</text>
<polygon points="307.8,460.9 348.6,448.0 341.9,461.2 396.5,488.7 382.8,515.8 328.3,488.2 321.6,501.4" fill="#d9d9d9" fill-opacity="0.86" stroke="#c2c2c2" stroke-opacity="0.9" stroke-width="1"/>
<text transform="translate(354.5,492.5) rotate(28)" text-anchor="middle" font-size="16.6" font-weight="bold" font-style="italic" fill="#1c2a6e">8,5%</text>
</svg>
</body>
</html>
